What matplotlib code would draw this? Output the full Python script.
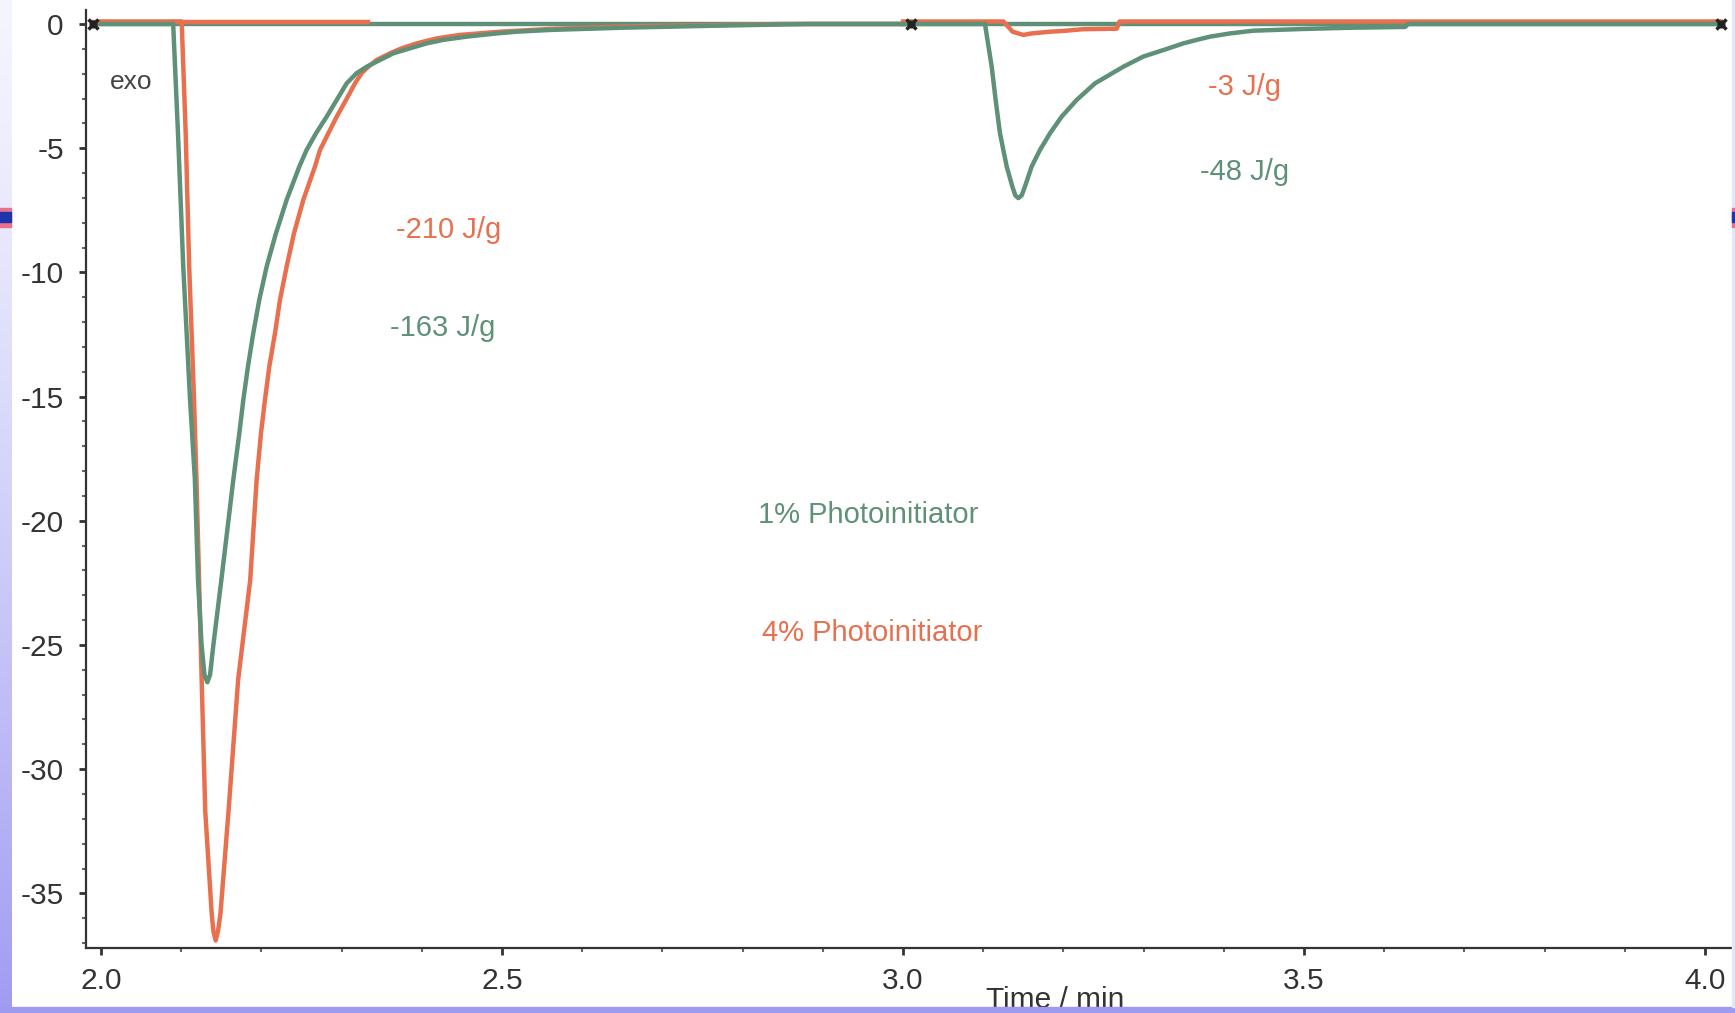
import numpy as np
import matplotlib.pyplot as plt
from matplotlib.patches import Rectangle
from matplotlib.ticker import MultipleLocator, FixedLocator

plt.rcParams['font.family'] = ['Liberation Sans', 'DejaVu Sans']
plt.rcParams['axes.unicode_minus'] = False

# 4% photoinitiator, first exposure (time / min, heat flow)
t_4a = [2.00, 2.05, 2.1006, 2.1056, 2.110, 2.116, 2.119, 2.1255, 2.130, 2.138, 2.140,
        2.143, 2.146, 2.149, 2.159, 2.171, 2.186, 2.1941, 2.1995, 2.2045, 2.2099,
        2.2170, 2.2232, 2.2315, 2.2407, 2.2523, 2.2668, 2.2731, 2.2835, 2.2939,
        2.3055, 2.3167, 2.3250, 2.3333, 2.3437, 2.3603, 2.3749, 2.3936, 2.4186,
        2.4476, 2.4975, 2.5599, 2.65, 2.75, 2.85, 3.0]
v_4a = [0.1, 0.1, 0.1, -4.4, -9.8, -15.1, -18.3, -26.4, -31.7, -35.8, -36.5,
        -36.9, -36.5, -35.8, -31.7, -26.4, -22.4, -18.34, -16.47, -15.12, -13.78,
        -12.44, -11.10, -9.76, -8.42, -7.08, -5.74, -5.07, -4.40, -3.73,
        -3.06, -2.39, -1.98, -1.72, -1.45, -1.18, -0.98, -0.78, -0.58,
        -0.44, -0.31, -0.20, -0.1, -0.05, 0.0, 0.0]

# 1% photoinitiator, first exposure
t_1a = [2.00, 2.05, 2.090, 2.096, 2.1026, 2.111, 2.117, 2.121, 2.1254, 2.129, 2.1326,
        2.136, 2.1401, 2.150, 2.1650, 2.1725, 2.1775, 2.1833, 2.1899, 2.1974, 2.2066,
        2.2182, 2.2315, 2.2473, 2.2564, 2.2681, 2.2814, 2.2939, 2.3063, 2.3188,
        2.3313, 2.3479, 2.3645, 2.3853, 2.4061, 2.4268, 2.4559, 2.4933, 2.5183,
        2.5599, 2.65, 2.75, 2.88, 3.0]
v_1a = [0.0, 0.0, 0.0, -4.4, -9.8, -15.1, -18.3, -22.4, -25.0, -26.2, -26.5,
        -26.2, -25.0, -22.4, -18.34, -16.47, -15.12, -13.78, -12.44, -11.10, -9.76,
        -8.42, -7.08, -5.74, -5.07, -4.40, -3.73, -3.06, -2.39, -1.98,
        -1.72, -1.45, -1.18, -0.98, -0.78, -0.64, -0.51, -0.38, -0.31,
        -0.24, -0.15, -0.08, 0.0, 0.0]

# second exposure
t_1b = [3.0, 3.05, 3.1022, 3.1106, 3.1155, 3.1209, 3.1293, 3.1363, 3.140, 3.1438,
        3.148, 3.1521, 3.1604, 3.1708, 3.1833, 3.1978, 3.2165, 3.2394, 3.2747, 3.2997,
        3.3246, 3.3496, 3.3662, 3.3828, 3.4077, 3.4368, 3.50, 3.56, 3.626, 3.63, 4.02]
v_1b = [0.0, 0.0, 0.0, -1.72, -3.06, -4.40, -5.74, -6.54, -6.9, -7.01,
        -6.9, -6.54, -5.74, -5.07, -4.40, -3.73, -3.06, -2.39, -1.72, -1.31,
        -1.05, -0.78, -0.64, -0.51, -0.38, -0.27, -0.2, -0.15, -0.12, 0.0, 0.0]

t_4b = [3.0, 3.1253, 3.1366, 3.1500, 3.1604, 3.1833, 3.2, 3.2248, 3.2665, 3.27, 4.02]
v_4b = [0.1, 0.1, -0.31, -0.44, -0.38, -0.31, -0.28, -0.21, -0.19, 0.1, 0.1]

# integration limits / baselines
base_4_x = [1.99, 2.333]
base_4_y = [0.1, 0.1]
base_1_x = [1.99, 4.02]
base_1_y = [0.0, 0.0]
limit_x = [1.99, 3.01, 4.02]
limit_y = [0.0, 0.0, 0.0]

labels = ['-210 J/g', '-163 J/g', '-3 J/g', '-48 J/g',
          '1% Photoinitiator', '4% Photoinitiator']
label_x = [2.433, 2.426, 3.426, 3.426, 2.957, 2.962]
label_y = [-8.28, -12.24, -2.54, -5.96, -19.76, -24.52]

xticks = [2.0, 2.5, 3.0, 3.5, 4.0]
xticklabels = ['2.0', '2.5', '3.0', '3.5', '4.0']
yticks = [0, -5, -10, -15, -20, -25, -30, -35]

ORANGE = '#E8704E'
GREEN = '#5E9177'
label_colors = [ORANGE, GREEN, ORANGE, GREEN, GREEN, ORANGE]

W, H = 1735, 1013
fig = plt.figure(figsize=(W / 100, H / 100), dpi=100)
fig.patch.set_facecolor('white')

ax = fig.add_axes([86 / W, (H - 948) / H, (1731 - 86) / W, (948 - 10) / H])
ax.set_xlim(1.9813, 4.0324)
ax.set_ylim(-37.2, 0.563)

lw = 3.2
ax.plot(base_1_x, base_1_y, color=GREEN, lw=lw)
ax.plot(base_4_x, base_4_y, color=ORANGE, lw=lw)
ax.plot(t_4a, v_4a, color=ORANGE, lw=lw, solid_joinstyle='round')
ax.plot(t_1a, v_1a, color=GREEN, lw=lw, solid_joinstyle='round')
ax.plot(t_4b, v_4b, color=ORANGE, lw=lw, solid_joinstyle='round')
ax.plot(t_1b, v_1b, color=GREEN, lw=lw, solid_joinstyle='round')
ax.plot(limit_x, limit_y, ls='none', marker='x', ms=7, mew=2.5, color='#222222')
ax.plot(limit_x, limit_y, ls='none', marker='+', ms=6, mew=2, color='#222222')

for txt, x, y, c in zip(labels, label_x, label_y, label_colors):
    ax.text(x, y, txt, color=c, fontsize=21, ha='center', va='center')
ax.text(2.037, -2.35, 'exo', color='#444444', fontsize=19, ha='center', va='center')

for s in ['top', 'right']:
    ax.spines[s].set_visible(False)
for s in ['left', 'bottom']:
    ax.spines[s].set_color('#333333')
    ax.spines[s].set_linewidth(1.6)

ax.xaxis.set_major_locator(FixedLocator(xticks))
ax.set_xticklabels(xticklabels)
ax.xaxis.set_minor_locator(MultipleLocator(0.1))
ax.yaxis.set_major_locator(FixedLocator(yticks))
ax.yaxis.set_minor_locator(MultipleLocator(1))
ax.tick_params(which='major', length=5, width=2, color='#333333',
               labelsize=21.5, labelcolor='#333333')
ax.tick_params(axis='y', which='major', pad=11)
ax.tick_params(axis='x', which='major', pad=9)
ax.tick_params(which='minor', length=3, width=1.5, color='#666666')

fig.text(1055 / W, 1 - 986 / H, 'Time / min', fontsize=21.5, color='#333333',
         ha='center', va='top')

# slide decoration: lavender frame and stripe
deco = fig.add_axes([0, 0, 1, 1], zorder=10)
deco.set_xlim(0, W)
deco.set_ylim(H, 0)
deco.axis('off')
deco.patch.set_alpha(0)
grad = np.linspace(0, 1, 256).reshape(-1, 1)
top_c = np.array([0.96, 0.96, 0.995])
bot_c = np.array([0.63, 0.61, 0.95])
img = top_c + (bot_c - top_c) * grad[:, :, None] ** 1.3
deco.imshow(img, extent=[0, 11, H, 0], aspect='auto', zorder=1)
deco.add_patch(Rectangle((0, 1007), W, 6, color='#9E9AF0', zorder=2))
deco.add_patch(Rectangle((W - 3, 0), 3, 1007, color='#E6E6FA', zorder=2))
for x0, w in [(0, 11), (W - 3, 3)]:
    deco.add_patch(Rectangle((x0, 208), w, 19, color='#E8708C', zorder=3))
    deco.add_patch(Rectangle((x0, 212), w, 10, color='#1E34A8', zorder=4))

fig.savefig('out.png', dpi=100)
